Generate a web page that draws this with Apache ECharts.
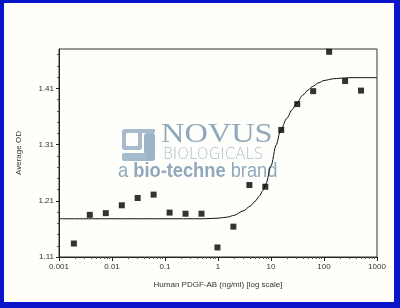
<!DOCTYPE html>
<html><head><meta charset="utf-8">
<script src="https://cdn.jsdelivr.net/npm/echarts@6/dist/echarts.min.js"></script>
<style>
html,body{margin:0;padding:0;width:400px;height:308px;overflow:hidden;background:#0a14c8}
#frame{position:absolute;left:4px;top:3px;width:390px;height:299px;background:#fefefb}
#chart{position:absolute;left:0;top:0;width:400px;height:308px}
</style></head>
<body><div id="frame"></div><div id="chart"></div>
<script>
// Measured points (2-fold dilution series)
const concentrations = [0.00191,0.00381,0.00763,0.0153,0.0305,0.061,0.122,0.244,0.488,0.977,1.95,3.91,7.81,15.6,31.25,62.5,125,250,500];
const averageOD = [1.134,1.185,1.188,1.202,1.215,1.221,1.189,1.187,1.187,1.127,1.164,1.238,1.235,1.336,1.382,1.405,1.475,1.423,1.406];
// Fitted curve
const fitX = [0.001,0.01,0.1,0.5,1,1.5,2,3,4,5,6,7,8,10,12.5,15,20,25,30,40,50,60,80,100,150,200,300,500,1000];
const fitY = [1.178,1.178,1.178,1.178,1.179,1.181,1.184,1.192,1.200,1.209,1.218,1.228,1.240,1.272,1.309,1.334,1.357,1.372,1.383,1.398,1.407,1.413,1.420,1.424,1.427,1.428,1.429,1.429,1.429];
const xTickLabels = ['0.001','0.01','0.1','1','10','100','1000'];
const yTickValues = [1.11,1.21,1.31,1.41];
const yMinorValues = [1.13,1.15,1.17,1.19,1.23,1.25,1.27,1.29,1.33,1.35,1.37,1.39,1.43,1.45,1.47];
const xMinorMultipliers = [2,3,4,5,6,7,8,9];
const xTitle = 'Human PDGF-AB (ng/ml) [log scale]';
const yTitle = 'Average OD';

const xMinorLog = [];
for (let d = -3; d < 3; d++) xMinorMultipliers.forEach(k => xMinorLog.push(d + Math.log10(k)));

const font = '"Liberation Sans", Arial, sans-serif';
const wm = '#8fa8bc';
const chart = echarts.init(document.getElementById('chart'), null, {renderer:'canvas'});
chart.setOption({
  animation:false,
  textStyle:{fontFamily:font},
  grid:{left:59, top:49, width:318, height:208, show:true, borderColor:'#333', borderWidth:1, backgroundColor:'transparent'},
  graphic:[
    {type:'group', z:0, children:[
      {type:'rect', shape:{x:122,y:129,width:20,height:21,r:3}, style:{fill:'#a6bccd'}},
      {type:'rect', shape:{x:126,y:133,width:12,height:13,r:1}, style:{fill:'#fefefb'}},
      {type:'rect', shape:{x:135,y:129,width:20,height:4,r:1}, style:{fill:'#a6bccd'}},
      {type:'rect', shape:{x:144,y:133,width:11,height:28,r:3}, style:{fill:'#9db4c7'}},
      {type:'rect', shape:{x:122,y:153,width:25,height:8,r:2}, style:{fill:'#a6bccd'}},
      {type:'text', x:161, y:148, scaleX:1.2, style:{text:'NOVUS', font:'normal 27px "Liberation Serif", serif', fill:wm, textVerticalAlign:'bottom'}},
      {type:'text', x:163, y:163, scaleX:1.0, style:{text:'BIOLOGICALS', font:'200 15px "DejaVu Sans", sans-serif', fill:'#a8bccb', textVerticalAlign:'bottom'}},
      {type:'text', x:118, y:182, scaleX:0.87, style:{
        text:'{r|a }{b|bio-techne}{r| brand}', textVerticalAlign:'bottom',
        rich:{r:{font:'normal 21px "Liberation Sans", sans-serif', fill:wm}, b:{font:'bold 21px "Liberation Sans", sans-serif', fill:wm}}
      }}
    ]}
  ],
  xAxis:[
    {type:'log', logBase:10, min:0.001, max:1000, splitNumber:6, position:'bottom',
     axisLine:{show:true, onZero:false, lineStyle:{color:'#222', width:1}},
     axisTick:{show:true, length:4, lineStyle:{color:'#222'}},
     axisLabel:{fontSize:8, color:'#333', margin:6, formatter:v => xTickLabels[Math.round(Math.log10(v)) + 3]},
     splitLine:{show:false}, minorTick:{show:false},
     name:xTitle, nameLocation:'middle', nameGap:24, nameTextStyle:{fontSize:8, color:'#333'}},
    {type:'value', min:-3, max:3, position:'bottom',
     axisLine:{show:false, onZero:false}, axisLabel:{show:false}, splitLine:{show:false},
     axisTick:{show:true, length:2, customValues:xMinorLog, lineStyle:{color:'#555'}}}
  ],
  yAxis:[
    {type:'value', min:1.11, max:1.48, interval:0.1, position:'left',
     axisLine:{show:true, onZero:false, lineStyle:{color:'#222', width:1}},
     axisTick:{show:true, length:3, customValues:yTickValues, lineStyle:{color:'#222'}},
     axisLabel:{fontSize:8, color:'#333', margin:5, customValues:yTickValues, formatter:v => v.toFixed(2)},
     splitLine:{show:false},
     name:yTitle, nameLocation:'middle', nameGap:36, nameRotate:90, nameTextStyle:{fontSize:8, color:'#333'}},
    {type:'value', min:1.11, max:1.48, position:'left',
     axisLine:{show:false, onZero:false}, axisLabel:{show:false}, splitLine:{show:false},
     axisTick:{show:true, length:2, customValues:yMinorValues, lineStyle:{color:'#555'}}}
  ],
  series:[
    {type:'line', xAxisIndex:0, yAxisIndex:0, data:fitX.map((x,i)=>[x,fitY[i]]), showSymbol:false, smooth:0.3, smoothMonotone:'x',
     lineStyle:{color:'#111', width:1}, z:3},
    {type:'scatter', xAxisIndex:0, yAxisIndex:0, data:concentrations.map((x,i)=>[x,averageOD[i]]), symbol:'rect', symbolSize:6,
     itemStyle:{color:'#000'}, z:4}
  ]
});
</script>
</body></html>
